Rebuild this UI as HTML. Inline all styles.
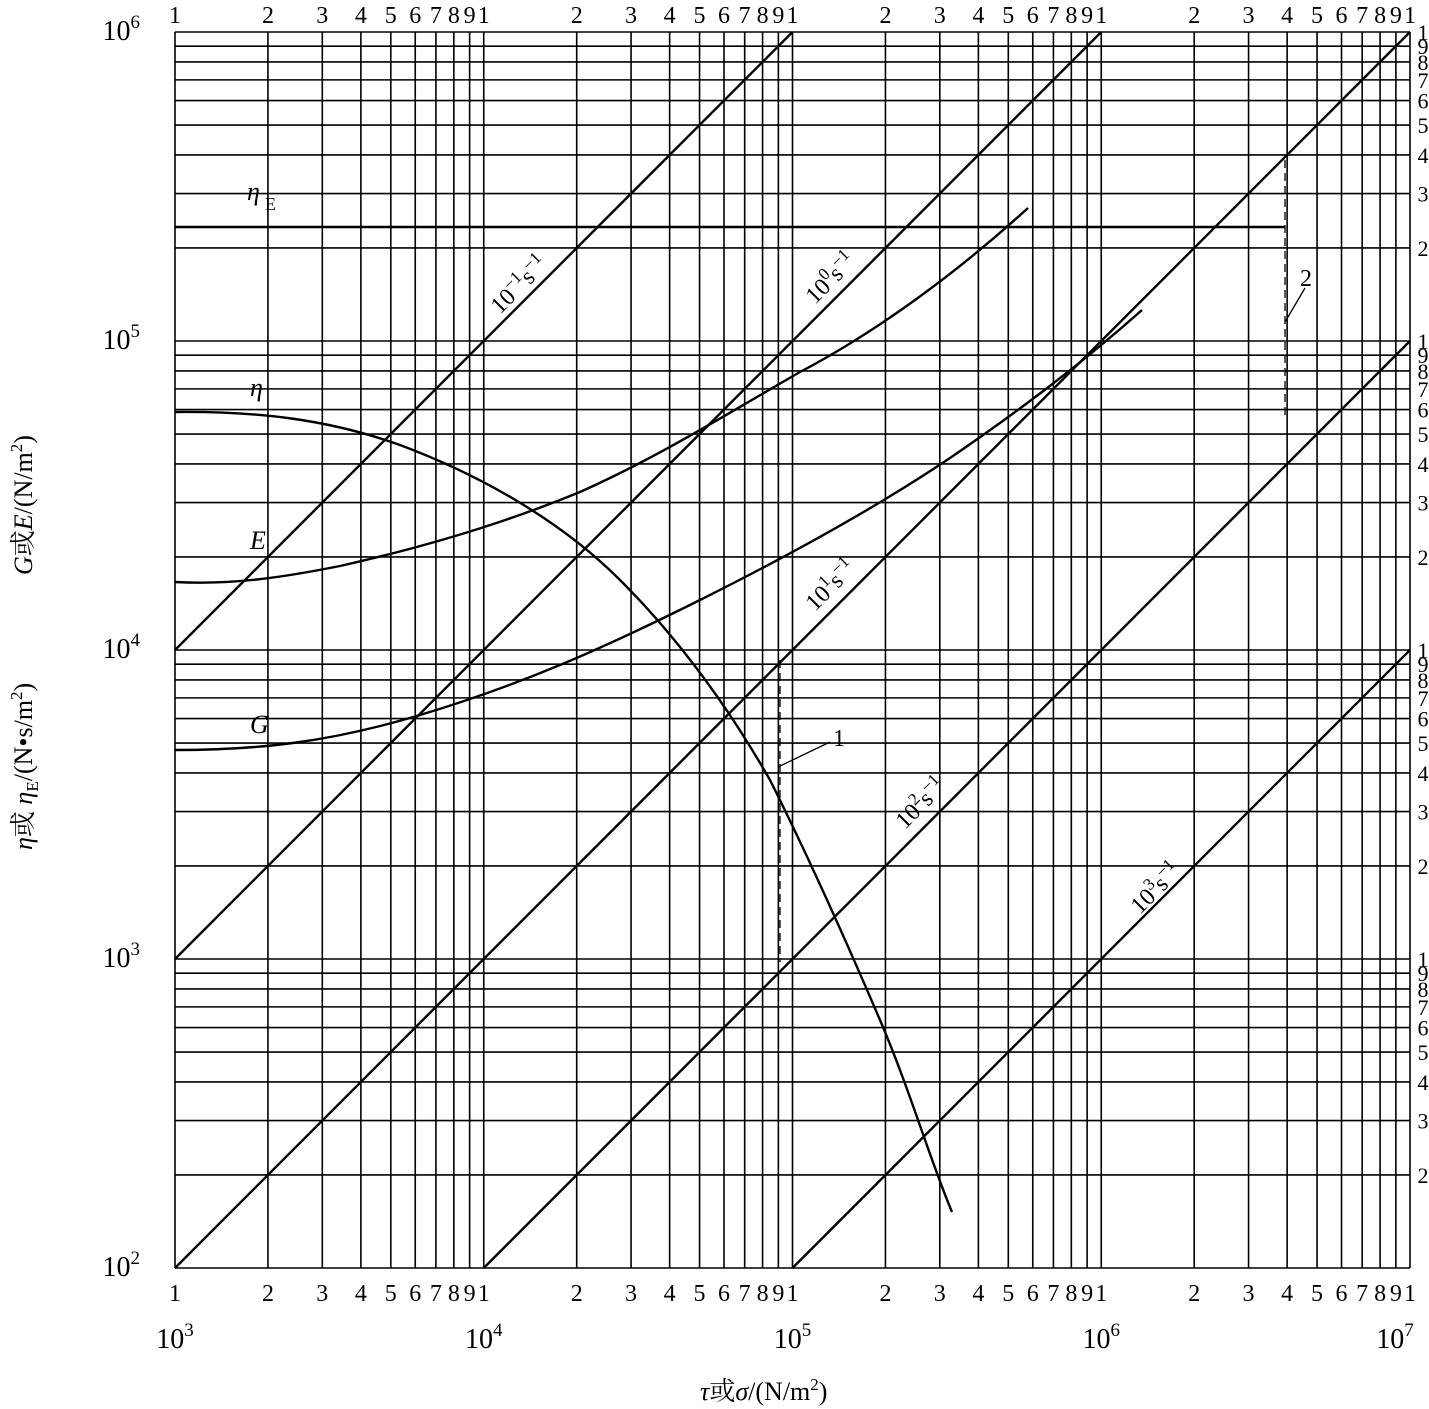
<!DOCTYPE html>
<html><head><meta charset="utf-8"><style>
html,body{margin:0;padding:0;background:#fff;}
svg{display:block;font-family:"Liberation Serif","Noto Serif CJK SC",serif;}
</style></head><body>
<svg id="s" width="1429" height="1409" viewBox="0 0 1429 1409" xmlns="http://www.w3.org/2000/svg">
<g id="grid" stroke="#000" stroke-width="1.6" fill="none"></g>
<g id="lab" fill="#000" font-size="24"></g>
<g stroke="#000" stroke-width="2.4" fill="none">
<line x1="175" y1="227" x2="1285" y2="227"/>
<path d="M175,412 C260,411 330,420 400,445 C480,475 560,520 620,580 C680,640 730,710 770,780 C810,860 850,950 880,1020 C910,1090 930,1160 952,1212"/>
<path d="M175,582 C230,585 280,578 340,566 C420,548 500,525 580,492 C660,456 720,418 800,372 C880,330 960,270 1028,208"/>
<path d="M175,750 C260,750 330,742 420,715 C520,685 600,650 700,600 C800,550 880,505 950,458 C1020,410 1080,365 1142,310"/>
</g>
<g stroke="#000" stroke-width="1.3" stroke-dasharray="8,5" fill="none">
<line x1="780" y1="660" x2="780" y2="962"/>
<line x1="1285" y1="160" x2="1285" y2="420"/>
</g>
<g stroke="#000" stroke-width="1.3" fill="none">
<line x1="778" y1="767" x2="830" y2="742"/>
<line x1="1285" y1="322" x2="1305" y2="288"/>
</g>
<g font-size="26" font-style="italic" fill="#000">
<text x="247" y="200">η</text><text x="265" y="210" font-size="18" font-style="normal">E</text>
<text x="250" y="396">η</text>
<text x="250" y="549">E</text>
<text x="250" y="733">G</text>
</g>
<g font-size="24" fill="#000">
<text x="833" y="746">1</text>
<text x="1300" y="286">2</text>
<text transform="translate(500,315) rotate(-45)">10<tspan dy="-10" font-size="17">−1</tspan><tspan dy="10">s</tspan><tspan dy="-10" font-size="17">−1</tspan></text>
<text transform="translate(815,305) rotate(-45)">10<tspan dy="-10" font-size="17">0</tspan><tspan dy="10">s</tspan><tspan dy="-10" font-size="17">−1</tspan></text>
<text transform="translate(815,612) rotate(-45)">10<tspan dy="-10" font-size="17">1</tspan><tspan dy="10">s</tspan><tspan dy="-10" font-size="17">−1</tspan></text>
<text transform="translate(905,830) rotate(-45)">10<tspan dy="-10" font-size="17">2</tspan><tspan dy="10">s</tspan><tspan dy="-10" font-size="17">−1</tspan></text>
<text transform="translate(1140,915) rotate(-45)">10<tspan dy="-10" font-size="17">3</tspan><tspan dy="10">s</tspan><tspan dy="-10" font-size="17">−1</tspan></text>
<text x="700" y="1400" font-size="26"><tspan font-style="italic">τ</tspan>或<tspan font-style="italic">σ</tspan>/(N/m<tspan dy="-10" font-size="17">2</tspan><tspan dy="10">)</tspan></text>
<text transform="translate(32,850) rotate(-90)" font-size="26"><tspan font-style="italic">η</tspan>或 <tspan font-style="italic">η</tspan><tspan font-size="17" dy="6">E</tspan><tspan dy="-6">/(N•s/m</tspan><tspan dy="-10" font-size="17">2</tspan><tspan dy="10">)</tspan></text>
<text transform="translate(32,575) rotate(-90)" font-size="26"><tspan font-style="italic">G</tspan>或<tspan font-style="italic">E</tspan>/(N/m<tspan dy="-10" font-size="17">2</tspan><tspan dy="10">)</tspan></text>
</g>
</svg>
<script>
var NS="http://www.w3.org/2000/svg";
var g=document.getElementById("grid"),lab=document.getElementById("lab");
var X0=175,X1=1410,Y0=1268,Y1=32;
var dx=(X1-X0)/4,dy=(Y0-Y1)/4;
function X(l){return X0+(l-3)*dx;}
function Y(l){return Y0-(l-2)*dy;}
function ln(a,b,c,d,w){var e=document.createElementNS(NS,"line");e.setAttribute("x1",a);e.setAttribute("y1",b);e.setAttribute("x2",c);e.setAttribute("y2",d);if(w)e.setAttribute("stroke-width",w);g.appendChild(e);}
function tx(x,y,s,anc,fs){var e=document.createElementNS(NS,"text");e.setAttribute("x",x);e.setAttribute("y",y);e.setAttribute("text-anchor",anc||"middle");if(fs)e.setAttribute("font-size",fs);e.textContent=s;lab.appendChild(e);return e;}
for(var d=3;d<7;d++)for(var k=1;k<=10;k++){var l=d+Math.log10(k);if(k==10&&d<6)continue;var x=X(l);ln(x,Y1,x,Y0);
 var s=(k==10)?"1":String(k);tx(x,23,s);tx(x,1301,s);}
for(var d=2;d<6;d++)for(var k=1;k<=10;k++){var l=d+Math.log10(k);if(k==10&&d<5)continue;var y=Y(l);ln(X0,y,X1,y);
 var s=(k==10)?"1":String(k);if(!(d==2&&k==1))tx(1423,y+8,s,"middle",22);}
function diag(c){
 var lx0=3,ly0=3+c; if(ly0<2){lx0=2-c;ly0=2;} var lx1=7,ly1=7+c; if(ly1>6){lx1=6-c;ly1=6;}
 ln(X(lx0),Y(ly0),X(lx1),Y(ly1),2.4);}
[1,0,-1,-2,-3].forEach(diag);
var dl=[[X(3),"3"],[X(4),"4"],[X(5),"5"],[X(6),"6"],[X(7)-15,"7"]];
dl.forEach(function(p){var e=tx(p[0],1348,"10","middle",28);var t=document.createElementNS(NS,"tspan");t.setAttribute("dy","-12");t.setAttribute("font-size","19");t.textContent=p[1];e.appendChild(t);});
[[6],[5],[4],[3],[2]].forEach(function(p){var y=Y(p[0]);var e=tx(140,y+8,"10","end",28);var t=document.createElementNS(NS,"tspan");t.setAttribute("dy","-12");t.setAttribute("font-size","19");t.textContent=p[0];e.appendChild(t);});
</script>
</body></html>
